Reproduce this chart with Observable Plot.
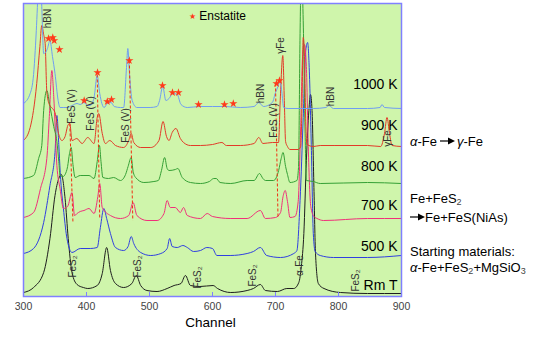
<!DOCTYPE html>
<html><head><meta charset="utf-8">
<script src="https://cdn.jsdelivr.net/npm/d3@7"></script>
<script src="https://cdn.jsdelivr.net/npm/@observablehq/plot@0.6"></script>
<style>
body{margin:0;background:#fff;font-family:"Liberation Sans",Arial,sans-serif;}
#wrap{position:relative;width:542px;height:338px;}
.note{position:absolute;left:410px;font-size:13px;line-height:16px;color:#000;white-space:nowrap;}
.sub{font-size:9px;vertical-align:-2px;color:#444;}
.arr{display:inline-block;width:15px;height:8px;vertical-align:1px;}
.sp{margin:0 2px 0 3px;}
#legend{position:absolute;left:189px;top:9px;font-size:12px;white-space:nowrap;}
</style></head><body><div id="wrap"></div>
<script>
// ---- data (channel, intensity in arbitrary units) ----
const channelTicks = [300, 400, 500, 600, 700, 800, 900];

const rmT = [[300,4],[316,9],[332,24],[342,58],[350,101],[356,118],[360,122],[366,98],[371,58],[377,24],[385,12],[395,9],[402,8],[417,11],[425,23],[432,49],[438,26],[446,13],[459,9],[472,13],[479,21],[486,11],[496,6],[512,5],[528,8],[539,11],[550,13],[557,21],[565,11],[580,10],[601,11],[608,8],[629,4],[655,6],[665,8],[676,12],[684,6],[703,5],[718,8],[729,8],[737,14],[741,30],[745,63],[749,136],[753,186],[755.6,202],[758,186],[761,109],[763.5,43],[768,13],[777,8],[803,4],[846,3],[900,3]];

const k500 = [[300,43],[316,48],[332,74],[342,111],[350,144],[353,181],[356,152],[358.3,124],[364,84],[369,58],[377,44],[390,48],[406,48],[417,49],[422,69],[427.5,88],[432,78],[438,63],[446,49],[459,46],[466,50],[471,60],[475,53],[486,44],[502,41],[518,43],[528,48],[532,58],[536,50],[544,49],[553,51],[560,49],[570,45],[581,46],[591,49],[600,48],[607,41],[628,41],[655,43],[665,45],[676,49],[686,41],[708,39],[729,43],[734,46],[739,96],[744,179],[748,246],[751,254],[753.5,229],[757,146],[760,63],[763,45],[771,41],[792,39],[846,39],[900,41]];

const k700 = [[300,79],[316,84],[327,108],[337,138],[341,180],[345,226],[348,200],[353,131],[358,108],[363.5,88],[370,90],[377,104],[381,81],[385,83],[390,85],[396,86],[404,88],[412,83],[418,100],[421,113],[425,89],[438,81],[454,78],[467,81],[474,94],[480,81],[496,76],[512,76],[523,83],[528,96],[533,89],[541,89],[549,84],[554,89],[560,81],[581,78],[591.6,83],[600,80],[628,78],[655,78],[676,86],[684,78],[700,79],[708,84],[712,100],[715.4,106],[719,95],[723,79],[731,80],[736,95],[740,170],[743,240],[746,252],[749,230],[752,150],[756,90],[761,80],[766,78],[776,76],[846,78],[900,78]];

const k800 = [[300,118],[316,121],[324,138],[329,151],[332,186],[337,206],[342,190],[348,170],[353,155],[356,135],[358,121],[363,120],[366,122],[370,130],[373,143],[375.7,149],[378.5,132],[382,119],[390,121],[396,121],[404,121],[412,118],[417,135],[420.6,151],[423,135],[426,119],[435,118],[443,119],[454,116],[462,122],[466,130],[471,139],[474,125],[478,119],[491,114],[507,115],[514,116],[519,126],[524,139],[528,128],[531,126],[541,127],[545,128],[552,119],[565,114],[581,113],[595,115],[602,118],[606,118],[612,114],[629,113],[655,116],[666,116],[674.6,123],[680,118],[684,116],[697,116],[705,126],[709,138],[712,144],[716,130],[719,122],[723,114],[734,116],[736.5,129],[739,263],[741,330],[744.4,263],[747,163],[749,116],[760,115],[771,113],[846,114],[900,113]];

const k900 = [[300,156],[310.6,169],[321,213],[326,250],[329,271],[332,262],[334.4,253],[337,205],[341,192],[346,188],[350,184],[355.6,163],[361,156],[366,160],[371,172],[373.5,173],[377,156],[384.6,158],[393,153],[402,159],[412,153],[417,179],[419.5,183],[425,163],[430,153],[437,156],[446,151],[459,149],[467,156],[471,163],[475,154],[486,149],[502,149],[515,156],[521.5,175],[527,160],[531,156],[536,164],[542,168],[549,158],[554,154],[565,151],[581,151],[600,152],[615,154],[622,151],[644,151],[666,153],[673.5,159],[680,153],[695,154],[704.8,154],[707.5,196],[711.6,241],[714,196],[716,155],[719,150],[723,147],[736,147],[740,150],[742,190],[744,259],[746,240],[748,175],[750,152],[760,150],[771,151],[793,151],[846,151],[867,150],[873,163],[877,179],[881,163],[885,151],[900,150]];

const k1000 = [[300,193],[310.6,203],[316,222],[318.6,246],[322,289],[324.5,330],[327,320],[329,290],[332,243],[335,244],[338,248],[342,256],[346,240],[350,223],[355,196],[358,189],[363,189],[369,189],[377,191],[385,193],[390,192],[396,194],[402,191],[406,191],[412,199],[417,221],[421,203],[428,189],[433,193],[439,194],[444,190],[454,189],[459,189],[463.5,229],[465.6,248],[468,225],[472.5,196],[480,189],[501,189],[512,190],[516,196],[521,210],[526,196],[531,198],[537,203],[544,202],[550,192],[560,189],[580,190],[600,190],[620,190],[644,189],[666,190],[673.5,194],[681,190],[695,194],[700,204],[704,210],[707,216],[710,205],[713,189],[720,188],[740,188],[760,188],[780,189],[785,191],[792,188],[846,188],[866,189],[869,192],[873,189],[900,188]];

// Enstatite peak markers
const enstatiteChannel = [339.7,346.5,348.7,357.1,396.3,417.5,433,439.7,468,520.6,536.5,546,577.8,619,633,701.6,706.3];
const enstatiteIntensity = [258,259,256,247,196,224,195,197,236,211,204,204,192,192,193,213,216];

// FeS (V) guide lines (top point, bottom point)
const fesTopChannel = [373.5, 417, 468, 700];
const fesTopIntensity = [173, 222, 236, 213];
const fesBottomChannel = [378.5, 421, 473.5, 704];
const fesBottomIntensity = [74, 78, 76, 78];

// rotated peak labels
const peakText = ["hBN","FeS (V)","FeS (V)","FeS (V)","FeS (V)","hBN","γFe","hBN","γFe","FeS₂","FeS₂","FeS₂","FeS₂","α-Fe","FeS₂"];
const peakChannel = [338.6,377,406.5,462,697,676,708.5,787,878,379,481,576,663.5,738,827];
const peakIntensity = [278,190,183,171,176,203,251,200,158,30,30,19,21,31,16];

// temperature labels
const tempText = ["1000 K","900 K","800 K","700 K","500 K","Rm T"];
const tempIntensity = [212,171,130,91,50,11];

const seriesData = [rmT, k500, k700, k800, k900, k1000];
const seriesColor = ["#1e1e1e", "#2f3fe0", "#f0307a", "#35a035", "#e23a28", "#6f9df2"];

// ---- build tables ----
const toRows = pts => pts.map(([c, v]) => ({c, v}));
const stars = enstatiteChannel.map((c, i) => ({c, v: enstatiteIntensity[i]}));
const fes = fesTopChannel.map((c, i) => ({c1: c, v1: fesTopIntensity[i], c2: fesBottomChannel[i], v2: fesBottomIntensity[i]}));
const peaks = peakText.map((t, i) => ({t, c: peakChannel[i], v: peakIntensity[i]}));
const temps = tempText.map((t, i) => ({t, v: tempIntensity[i]}));

const font = "'Liberation Sans', Arial, sans-serif";

const chart = Plot.plot({
  width: 542, height: 338,
  marginLeft: 23, marginRight: 141, marginTop: 3, marginBottom: 42,
  style: {fontFamily: font, background: "transparent", overflow: "visible"},
  x: {domain: [300, 900]},
  y: {domain: [0, 293], axis: null},
  marks: [
    Plot.frame({fill: "#cff5ab", stroke: null}),
    ...seriesData.map((pts, i) => Plot.line(toRows(pts), {x: "c", y: "v", stroke: seriesColor[i], strokeWidth: 1, curve: "monotone-x", clip: true})),
    Plot.link(fes, {x1: "c1", y1: "v1", x2: "c2", y2: "v2", stroke: "#f03010", strokeWidth: 1, strokeDasharray: "3,2"}),
    Plot.dot(stars, {x: "c", y: "v", symbol: "star", r: 2.6, fill: "#ff3a1a", stroke: null}),
    Plot.text(peaks, {x: "c", y: "v", text: "t", rotate: -90, fontSize: 10, fill: "#333"}),
    Plot.text(temps, {y: "v", text: "t", frameAnchor: "right", dx: -4, textAnchor: "end", fontSize: 14, fill: "#000"}),
    Plot.tickX(channelTicks, {x: d => d, stroke: "#7f7fff", insetTop: 289}),
    Plot.frame({stroke: "#8080ff", strokeWidth: 1.5}),
    Plot.axisX({ticks: channelTicks, tickSize: 0, tickPadding: 6, fontSize: 10.5, color: "#444", label: null}),
    Plot.text(["Channel"], {text: d => d, frameAnchor: "bottom", dy: 30, dx: -2, fontSize: 13.5, fill: "#000"})
  ]
});

const arrow = `<svg class="arr" viewBox="0 0 15 8"><line x1="0" y1="4" x2="9" y2="4" stroke="#000" stroke-width="1.2"/><path d="M8 0.5 L15 4 L8 7.5 Z" fill="#000"/></svg>`;
const wrap = document.getElementById("wrap");
wrap.appendChild(chart);
wrap.insertAdjacentHTML("beforeend", `
<div id="legend"><span style="color:#ff3a1a;font-size:8px;vertical-align:1px">★</span>&nbsp;Enstatite</div>
<div class="note" style="top:134px"><i>α</i>-Fe<span class="sp">${arrow}</span><i>γ</i>-Fe</div>
<div class="note" style="top:191px">Fe+FeS<span class="sub">2</span><br>${arrow}Fe+FeS(NiAs)</div>
<div class="note" style="top:244px">Starting materials:<br><i>α</i>-Fe+FeS<span class="sub">2</span>+MgSiO<span class="sub">3</span></div>
`);
</script>
</body></html>
